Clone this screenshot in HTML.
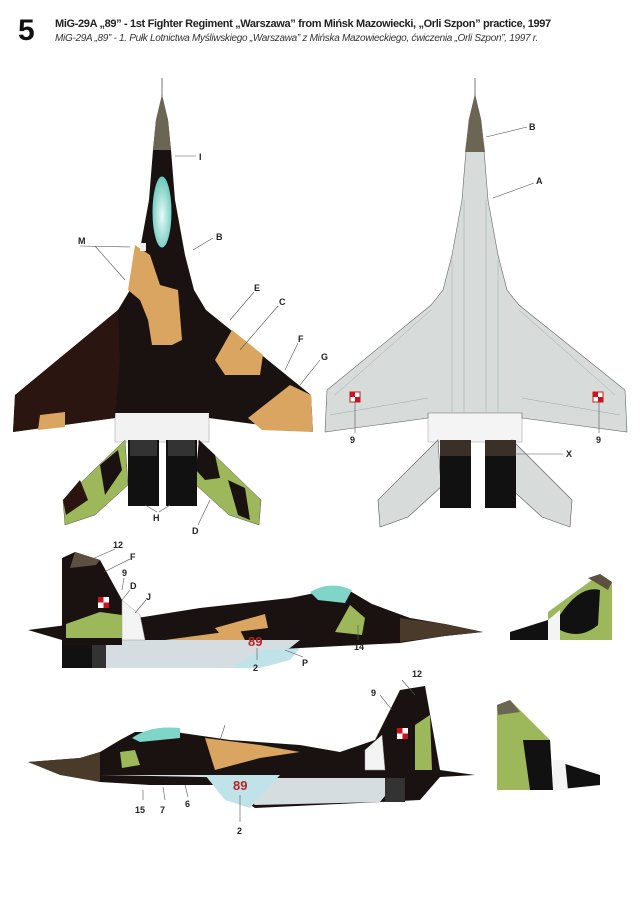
<!DOCTYPE html>
<html><head><meta charset="utf-8"><style>
html,body{margin:0;padding:0;background:#fff;}
body{width:640px;height:900px;overflow:hidden;position:relative;font-family:"Liberation Sans",sans-serif;}
.n{position:absolute;left:18px;top:14px;font-size:30px;font-weight:bold;color:#111;}
.t1{position:absolute;left:55px;top:18px;font-size:11px;font-weight:bold;color:#222;white-space:nowrap;letter-spacing:-0.35px;}
.t2{position:absolute;left:55px;top:33px;font-size:10px;font-style:italic;color:#333;white-space:nowrap;letter-spacing:-0.3px;}
svg{position:absolute;left:0;top:0;}
svg text{font-family:"Liberation Sans",sans-serif;font-size:9px;font-weight:bold;fill:#222;}
</style></head><body>
<div class="n">5</div>
<div class="t1">MiG-29A „89” - 1st Fighter Regiment „Warszawa” from Mińsk Mazowiecki, „Orli Szpon” practice, 1997</div>
<div class="t2">MiG-29A „89” - 1. Pułk Lotnictwa Myśliwskiego „Warszawa” z Mińska Mazowieckiego, ćwiczenia „Orli Szpon”, 1997 r.</div>
<svg width="640" height="900" viewBox="0 0 640 900">
<defs><radialGradient id="cg" cx="0.5" cy="0.55" r="0.6"><stop offset="0" stop-color="#e8fbf8"/><stop offset="1" stop-color="#5cc2b4"/></radialGradient></defs>
<!-- LEFT TOP VIEW -->
<line x1="162" y1="78" x2="162" y2="97" stroke="#777" stroke-width="1"/>
<rect x="115" y="412" width="94" height="30" fill="#f2f2f2" stroke="#aaa" stroke-width="0.6"/>
<polygon points="125,440 63,500 65,525 95,515 128,485" fill="#9cb85a" stroke="#555" stroke-width="0.5"/>
<polygon points="199,440 261,500 259,525 229,515 196,485" fill="#9cb85a" stroke="#555" stroke-width="0.5"/>
<polygon points="118,450 100,465 105,495 122,470" fill="#1a1210"/>
<polygon points="80,480 63,500 66,515 88,500" fill="#2a1410"/>
<polygon points="199,440 215,455 220,478 205,480 196,470" fill="#1a1210"/>
<polygon points="228,480 245,488 250,520 238,515" fill="#1a1210"/>
<rect x="128" y="440" width="31" height="66" fill="#111"/>
<rect x="166" y="440" width="31" height="66" fill="#111"/>
<rect x="130" y="440" width="27" height="16" fill="#333"/>
<rect x="168" y="440" width="27" height="16" fill="#333"/>
<polygon points="162,95 168,120 171,150 175,200 185,255 194,290 206,310 311,395 313,432 209,418 209,413 115,413 115,418 13,432 15,395 118,310 130,290 139,255 149,200 153,150 156,120" fill="#1a1210"/>
<polygon points="118,310 15,395 13,432 115,418 120,360" fill="#2e1712" opacity="0.8"/>
<polygon points="162,95 168,120 171,150 153,150 156,120" fill="#6b6654"/>
<ellipse cx="162" cy="212" rx="10" ry="36" fill="url(#cg)" stroke="#111" stroke-width="1"/>
<polygon points="135,245 150,255 160,285 178,290 182,340 172,345 152,345 148,320 140,300 128,290" fill="#d9a560"/>
<polygon points="232,330 263,355 260,375 225,375 215,360" fill="#d9a560"/>
<polygon points="290,385 311,395 313,432 262,430 248,418" fill="#d9a560"/>
<polygon points="40,415 65,412 65,427 38,430" fill="#d9a560"/>
<rect x="140" y="243" width="6" height="8" fill="#eee"/>
<g stroke="#555" stroke-width="0.6" fill="none">
<line x1="175" y1="156" x2="196" y2="156"/><polyline points="80,246 130,247"/><line x1="95" y1="246" x2="125" y2="280"/>
<line x1="193" y1="250" x2="213" y2="238"/><line x1="230" y1="320" x2="254" y2="292"/>
<line x1="240" y1="350" x2="278" y2="306"/><line x1="285" y1="370" x2="298" y2="343"/>
<line x1="300" y1="385" x2="320" y2="360"/><line x1="145" y1="505" x2="157" y2="512"/><line x1="170" y1="505" x2="159" y2="512"/>
<line x1="210" y1="500" x2="198" y2="525"/>
</g>
<text x="199" y="160">I</text><text x="78" y="244">M</text><text x="216" y="240">B</text>
<text x="254" y="291">E</text><text x="279" y="305">C</text><text x="298" y="342">F</text><text x="321" y="360">G</text>
<text x="153" y="521">H</text><text x="192" y="534">D</text>
<!-- RIGHT TOP VIEW -->
<line x1="475" y1="78" x2="475" y2="97" stroke="#777" stroke-width="1"/>
<rect x="428" y="412" width="94" height="30" fill="#f4f4f4" stroke="#aaa" stroke-width="0.6"/>
<polygon points="438,440 378,500 380,527 408,517 441,487" fill="#d7dcdb" stroke="#555" stroke-width="0.6"/>
<polygon points="512,440 572,500 570,527 542,517 509,487" fill="#d7dcdb" stroke="#555" stroke-width="0.6"/>
<rect x="440" y="440" width="31" height="68" fill="#111"/><rect x="440" y="440" width="31" height="16" fill="#3a3028"/>
<rect x="485" y="440" width="31" height="68" fill="#111"/><rect x="485" y="440" width="31" height="16" fill="#3a3028"/>
<polygon points="475,95 481,120 484,150 488,200 498,255 507,290 519,305 625,390 627,432 522,418 522,413 428,413 428,418 325,432 327,390 431,305 443,290 452,255 462,200 466,150 469,120" fill="#d7dcdb" stroke="#666" stroke-width="0.6"/>
<polygon points="475,95 481,120 485,152 465,152 469,120" fill="#6b6654"/>
<g stroke="#9aa" stroke-width="0.5" fill="none">
<line x1="452" y1="260" x2="452" y2="412"/><line x1="498" y1="260" x2="498" y2="412"/>
<line x1="464" y1="200" x2="464" y2="412"/><line x1="486" y1="200" x2="486" y2="412"/>
<line x1="431" y1="310" x2="335" y2="395"/><line x1="519" y1="310" x2="615" y2="395"/>
<line x1="330" y1="415" x2="428" y2="398"/><line x1="620" y1="415" x2="522" y2="398"/>
</g>
<g><rect x="350" y="392" width="10" height="10" fill="#fff" stroke="#b21" stroke-width="1"/><rect x="350" y="392" width="5" height="5" fill="#c12"/><rect x="355" y="397" width="5" height="5" fill="#c12"/></g>
<g><rect x="593" y="392" width="10" height="10" fill="#fff" stroke="#b21" stroke-width="1"/><rect x="593" y="392" width="5" height="5" fill="#c12"/><rect x="598" y="397" width="5" height="5" fill="#c12"/></g>
<g stroke="#555" stroke-width="0.6"><line x1="486" y1="137" x2="527" y2="127"/><line x1="493" y1="198" x2="534" y2="183"/>
<line x1="355" y1="402" x2="355" y2="433"/><line x1="599" y1="402" x2="599" y2="433"/><line x1="515" y1="454" x2="563" y2="454"/></g>
<text x="529" y="130">B</text><text x="536" y="184">A</text><text x="350" y="443">9</text><text x="596" y="443">9</text><text x="566" y="457">X</text>
<!-- SIDE VIEW 1 -->
<polygon points="28,630 90,622 125,620 200,608 290,598 330,590 350,591 372,604 410,618 445,624 483,632 445,636 400,643 300,648 230,668 62,668 62,640" fill="#1a1210"/>
<polygon points="62,640 300,640 290,648 230,668 62,668" fill="#d6dde0"/>
<polygon points="230,668 262,650 300,648 290,660 260,668" fill="#bfe3e8"/>
<rect x="62" y="640" width="30" height="28" fill="#111"/>
<rect x="92" y="640" width="14" height="28" fill="#333"/>
<polygon points="62,558 75,552 100,560 122,600 122,645 62,645" fill="#1a1210"/>
<polygon points="75,552 100,560 96,565 70,568" fill="#5d5040"/>
<polygon points="66,624 100,612 122,615 122,638 66,638" fill="#9cb85a"/>
<rect x="98" y="597" width="11" height="11" fill="#fff"/><rect x="98" y="597" width="5.5" height="5.5" fill="#c12"/><rect x="103.5" y="602.5" width="5.5" height="5.5" fill="#c12"/>
<polygon points="122,600 140,615 145,640 122,640" fill="#f4f4f4" stroke="#999" stroke-width="0.5"/>
<polygon points="215,628 265,614 268,628 220,634" fill="#d9a560"/>
<polygon points="165,640 240,630 245,640" fill="#d9a560"/>
<path d="M310,592 Q330,580 352,590 L345,603 L318,600 Z" fill="#7fd6c8"/>
<polygon points="335,632 350,605 365,618 362,635" fill="#9cb85a"/>
<polygon points="400,618 445,624 483,632 445,636 400,642" fill="#4a3a2a"/>
<text x="248" y="646" style="fill:#b22;font-size:13px;">89</text>
<polygon points="510,632 548,620 552,640 510,640" fill="#111"/>
<polygon points="548,612 600,574 612,582 612,640 548,640" fill="#9cb85a"/>
<polygon points="588,578 600,574 612,582 608,590" fill="#5d5040"/>
<path d="M560,615 Q580,585 600,590 L598,625 Q580,640 560,630 Z" fill="#111"/>
<polygon points="548,620 560,610 560,640 548,640" fill="#f4f4f4"/>
<g stroke="#555" stroke-width="0.6"><line x1="90" y1="560" x2="115" y2="549"/><line x1="104" y1="572" x2="130" y2="559"/>
<line x1="122" y1="590" x2="124" y2="578"/><line x1="122" y1="600" x2="130" y2="590"/><line x1="135" y1="613" x2="146" y2="600"/>
<line x1="257" y1="648" x2="257" y2="660"/><line x1="285" y1="650" x2="303" y2="657"/><line x1="358" y1="625" x2="358" y2="640"/></g>
<text x="113" y="548">12</text><text x="130" y="560">F</text><text x="122" y="576">9</text><text x="130" y="589">D</text><text x="146" y="600">J</text>
<text x="253" y="671">2</text><text x="302" y="666">P</text><text x="354" y="650">14</text>
<!-- SIDE VIEW 2 -->
<polygon points="28,762 80,758 100,752 120,740 135,732 175,732 230,740 300,745 340,752 375,740 400,690 425,686 440,770 475,775 440,777 420,800 380,802 255,808 220,785 150,785 100,782" fill="#1a1210"/>
<polygon points="100,775 220,775 255,805 380,802 400,778 250,778" fill="#d6dde0"/>
<polygon points="205,775 280,775 250,808 225,800" fill="#bfe3e8"/>
<polygon points="205,738 260,745 300,752 260,758 215,770" fill="#d9a560"/>
<path d="M132,738 Q150,725 180,728 L180,738 L140,742 Z" fill="#7fd6c8"/>
<polygon points="28,762 80,758 100,752 100,782 60,775" fill="#4a3a2a"/>
<polygon points="120,752 135,750 140,765 122,768" fill="#9cb85a"/>
<polygon points="415,725 430,715 432,770 415,770" fill="#9cb85a"/>
<polygon points="365,750 382,735 385,770 365,770" fill="#f4f4f4" stroke="#999" stroke-width="0.5"/>
<rect x="397" y="728" width="11" height="11" fill="#fff"/><rect x="397" y="728" width="5.5" height="5.5" fill="#c12"/><rect x="402.5" y="733.5" width="5.5" height="5.5" fill="#c12"/>
<rect x="385" y="778" width="20" height="24" fill="#333"/>
<text x="233" y="790" style="fill:#b22;font-size:13px;">89</text>
<polygon points="497,705 510,700 550,740 553,790 497,790" fill="#9cb85a"/>
<polygon points="497,705 510,700 520,712 498,715" fill="#6b6654"/>
<polygon points="523,740 550,740 553,790 530,790" fill="#111"/>
<polygon points="553,760 600,775 600,785 553,790" fill="#111"/>
<polygon points="553,760 565,760 568,790 553,790" fill="#f4f4f4"/>
<g stroke="#555" stroke-width="0.6"><line x1="402" y1="680" x2="415" y2="695"/><line x1="380" y1="695" x2="392" y2="710"/>
<line x1="143" y1="790" x2="143" y2="800"/><line x1="163" y1="787" x2="165" y2="800"/><line x1="185" y1="785" x2="188" y2="797"/><line x1="240" y1="795" x2="240" y2="822"/>
<line x1="220" y1="740" x2="225" y2="725"/></g>
<text x="412" y="677">12</text><text x="371" y="696">9</text><text x="135" y="813">15</text><text x="160" y="813">7</text><text x="185" y="807">6</text><text x="237" y="834">2</text>
</svg>
</body></html>
